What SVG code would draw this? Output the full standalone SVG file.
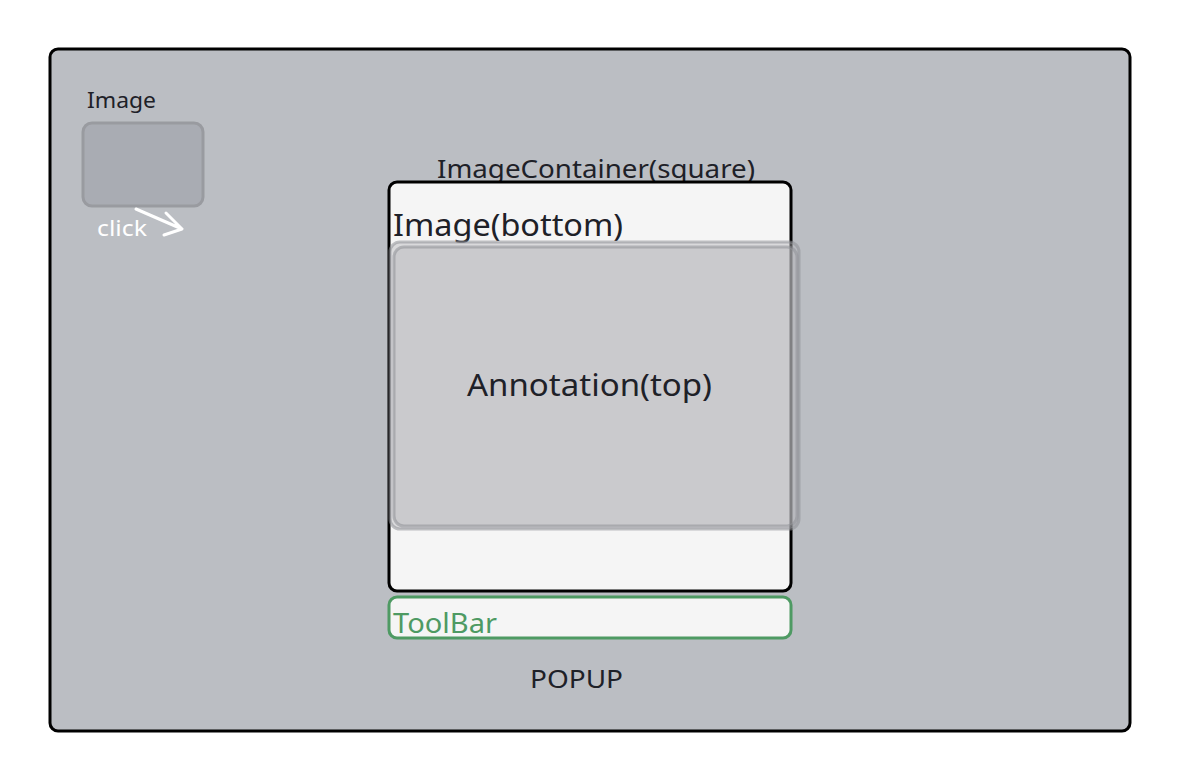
<svg xmlns="http://www.w3.org/2000/svg" width="1182" height="782" viewBox="0 0 1182 782">
<style>
.t{font-family:"Source Sans Pro","Noto Sans","Liberation Sans",sans-serif;fill:#1e2128}
.lyr{fill:#b8b9bd;fill-opacity:0.45;stroke:#8e9095;stroke-opacity:0.55;stroke-width:3}
</style>
<rect width="1182" height="782" fill="#ffffff"/>
<g id="popup">
<rect x="50" y="49" width="1080" height="682" rx="8" fill="#bbbec3" stroke="#000" stroke-width="3"/>
<text class="t" x="530" y="688" font-size="26" textLength="93" lengthAdjust="spacingAndGlyphs">POPUP</text>
</g>
<g id="image-thumb">
<text class="t" x="87" y="108" font-size="22" textLength="69" lengthAdjust="spacingAndGlyphs">Image</text>
<rect x="83" y="123" width="120" height="83" rx="9" fill="#a9acb3" stroke="#999ba0" stroke-width="3"/>
</g>
<g id="connectors">
<path d="M136 209 L182 229 M166 213 L182 229 L164 235" fill="none" stroke="#ffffff" stroke-width="3" stroke-linecap="round" stroke-linejoin="round"/>
<text x="97" y="236" font-size="22" fill="#ffffff" font-family="Source Sans Pro,Noto Sans,Liberation Sans,sans-serif" textLength="50" lengthAdjust="spacingAndGlyphs">click</text>
</g>
<g id="image-container">
<text class="t" x="437" y="178" font-size="26" textLength="318" lengthAdjust="spacingAndGlyphs">ImageContainer(square)</text>
<rect x="389" y="182" width="402" height="409" rx="8" fill="#f5f5f5" stroke="#000" stroke-width="3"/>
<text class="t" x="393" y="236" font-size="31" textLength="230" lengthAdjust="spacingAndGlyphs">Image(bottom)</text>
</g>
<g id="image-bottom">
<rect class="lyr" x="390" y="242" width="409" height="287" rx="10"/>
</g>
<g id="annotation-top">
<rect class="lyr" x="394" y="247" width="403" height="279" rx="10"/>
<text class="t" x="467" y="396" font-size="31" textLength="245" lengthAdjust="spacingAndGlyphs">Annotation(top)</text>
</g>
<g id="toolbar">
<rect x="389" y="597" width="402" height="41" rx="8" fill="#f5f5f5" stroke="#4e9a63" stroke-width="3"/>
<text x="393" y="633" font-size="27" fill="#4e9a63" font-family="Source Sans Pro,Noto Sans,Liberation Sans,sans-serif" textLength="104" lengthAdjust="spacingAndGlyphs">ToolBar</text>
</g>
</svg>
